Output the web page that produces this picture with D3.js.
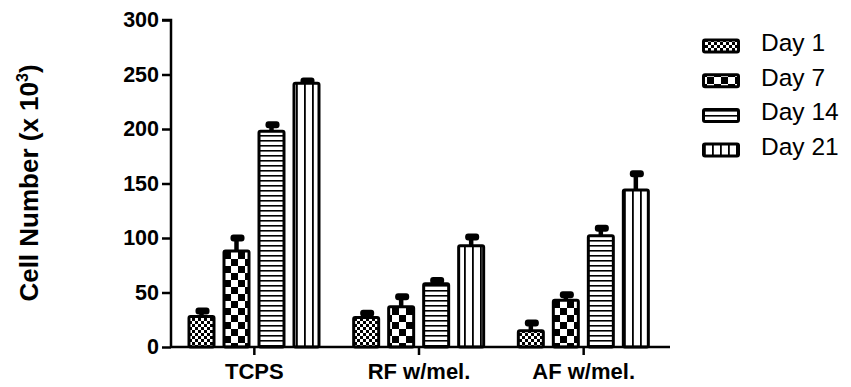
<!DOCTYPE html>
<html>
<head>
<meta charset="utf-8">
<script src="https://cdn.jsdelivr.net/npm/d3@7"></script>
<style>
  html, body { margin: 0; padding: 0; background: #fff; }
  svg { display: block; }
  text { font-family: "Liberation Sans", Arial, sans-serif; fill: #000; }
</style>
</head>
<body>
<svg id="chart" width="851" height="387"></svg>
<script>
// Cell number (x10^3) per substrate and culture day
const groups = ["TCPS", "RF w/mel.", "AF w/mel."];
const days = ["Day 1", "Day 7", "Day 14", "Day 21"];
const day1  = [28, 27, 15];
const day7  = [88, 37, 43];
const day14 = [198, 58, 102];
const day21 = [242, 93, 144];
const err1  = [5, 4, 7];
const err7  = [12, 9, 5];
const err14 = [6, 3, 7];
const err21 = [2, 8, 15];
const yTicks = [0, 50, 100, 150, 200, 250, 300];

const series = [day1, day7, day14, day21];
const errors = [err1, err7, err14, err21];
const patternIds = ["pDay1", "pDay7", "pDay14", "pDay21"];

const svg = d3.select("#chart");
const defs = svg.append("defs");

// Fill patterns: fine checker, coarse checker, horizontal lines, vertical lines
const p1 = defs.append("pattern").attr("id", "pDay1").attr("patternUnits", "userSpaceOnUse")
  .attr("width", 6).attr("height", 6);
p1.append("rect").attr("width", 6).attr("height", 6).attr("fill", "#fff");
p1.append("rect").attr("width", 3).attr("height", 3).attr("fill", "#000");
p1.append("rect").attr("x", 3).attr("y", 3).attr("width", 3).attr("height", 3).attr("fill", "#000");

const p2 = defs.append("pattern").attr("id", "pDay7").attr("patternUnits", "userSpaceOnUse")
  .attr("width", 14).attr("height", 14);
p2.append("rect").attr("width", 14).attr("height", 14).attr("fill", "#fff");
p2.append("rect").attr("width", 7).attr("height", 7).attr("fill", "#000");
p2.append("rect").attr("x", 7).attr("y", 7).attr("width", 7).attr("height", 7).attr("fill", "#000");

const p3 = defs.append("pattern").attr("id", "pDay14").attr("patternUnits", "userSpaceOnUse")
  .attr("width", 10).attr("height", 5);
p3.append("rect").attr("width", 10).attr("height", 5).attr("fill", "#fff");
p3.append("rect").attr("y", 0).attr("width", 10).attr("height", 1.6).attr("fill", "#000");

const p4 = defs.append("pattern").attr("id", "pDay21").attr("patternUnits", "userSpaceOnUse")
  .attr("width", 8).attr("height", 10);
p4.append("rect").attr("width", 8).attr("height", 10).attr("fill", "#fff");
p4.append("rect").attr("x", 0).attr("width", 1.8).attr("height", 10).attr("fill", "#000");

// Scales
const x0 = d3.scaleBand().domain(groups).range([172, 666]);
const x1 = d3.scaleBand().domain(days).range([12, 152]).paddingInner(0.2).paddingOuter(0.1);
const y = d3.scaleLinear().domain([0, 300]).range([347, 20]);

// Bars
const sw = 3;
days.forEach((day, si) => {
  const g = svg.append("g");
  groups.forEach((grp, gi) => {
    const v = series[si][gi];
    const e = errors[si][gi];
    const bx = x0(grp) + x1(day);
    const bw = x1.bandwidth();
    const cx = bx + bw / 2;
    // error bar (upper only)
    g.append("line")
      .attr("x1", cx).attr("x2", cx)
      .attr("y1", y(v)).attr("y2", y(v + e))
      .attr("stroke", "#000").attr("stroke-width", 4.5);
    g.append("rect")
      .attr("x", cx - 6).attr("width", 14)
      .attr("y", y(v + e) - 3.5).attr("height", 7)
      .attr("rx", 3).attr("fill", "#000");
    // bar
    g.append("rect")
      .attr("x", bx + sw / 2).attr("width", bw - sw)
      .attr("y", y(v)).attr("height", y(0) - y(v))
      .attr("rx", 1.5)
      .attr("fill", `url(#${patternIds[si]})`)
      .attr("stroke", "#000").attr("stroke-width", sw);
  });
});

// Y axis
const yAxis = svg.append("g").attr("transform", "translate(171,0)")
  .call(d3.axisLeft(y).tickValues(yTicks).tickSize(9).tickPadding(3));
yAxis.select(".domain").attr("stroke-width", 2.5).attr("d", `M-9,${y(300)}H0V${y(0)}`);
yAxis.selectAll(".tick line").attr("stroke-width", 2.5);
yAxis.selectAll(".tick text")
  .style("font-family", "'Liberation Sans', Arial, sans-serif")
  .style("font-size", "21.5px").style("font-weight", "bold").attr("fill", "#000");

// X axis
const xAxis = svg.append("g").attr("transform", `translate(0,${y(0)})`)
  .call(d3.axisBottom(x0).tickSize(8).tickPadding(8));
xAxis.select(".domain").attr("stroke-width", 2.5).attr("d", `M171,0H670`);
xAxis.selectAll(".tick line").attr("stroke-width", 2.5);
xAxis.selectAll(".tick text")
  .style("font-family", "'Liberation Sans', Arial, sans-serif")
  .style("font-size", "22px").style("font-weight", "bold").attr("fill", "#000");

// Y axis title
const title = svg.append("text")
  .attr("transform", "translate(38,183) rotate(-90)")
  .attr("text-anchor", "middle")
  .style("font-size", "26px").style("font-weight", "bold");
title.append("tspan").text("Cell Number (x 10");
title.append("tspan").attr("dy", -10).style("font-size", "16px").text("3");
title.append("tspan").attr("dy", 10).text(")");

// Legend
const legend = svg.append("g");
days.forEach((day, i) => {
  const cy = 46 + i * 34.7;
  legend.append("rect")
    .attr("x", 703.5).attr("y", cy - 6).attr("width", 35).attr("height", 12)
    .attr("rx", 1.5)
    .attr("fill", `url(#${patternIds[i]})`)
    .attr("stroke", "#000").attr("stroke-width", sw);
  legend.append("text")
    .attr("x", 761).attr("y", cy + 5)
    .style("font-size", "24.5px")
    .text(day);
});
</script>
</body>
</html>
